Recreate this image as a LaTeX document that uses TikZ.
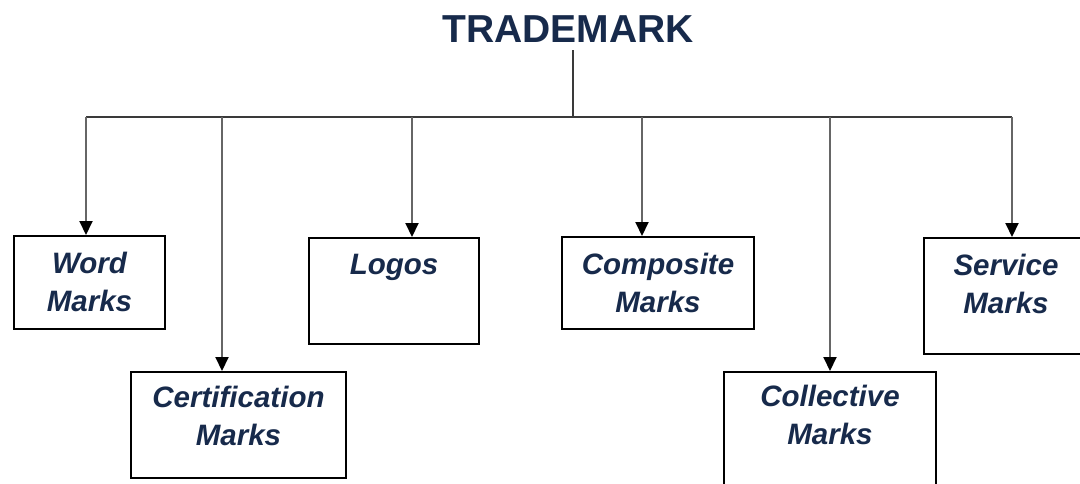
\documentclass[tikz,border=0pt]{standalone}
\usepackage{fontspec}
\setmainfont{Liberation Sans}
\usepackage{tikz}
\usetikzlibrary{arrows.meta,positioning}
\definecolor{navy}{HTML}{172A4B}
\definecolor{linegrey}{HTML}{3A3A3A}
\definecolor{dropgrey}{HTML}{666666}
\tikzset{
	markbox/.style={shape=rectangle,draw=black,line width=2pt,fill=white,anchor=north west,inner sep=0pt},
	marktext/.style={inner sep=0pt,align=center,text=navy,font=\fontsize{29.5}{38}\selectfont\bfseries\itshape},
	bus/.style={draw=linegrey,line width=2pt},
	drop/.style={draw=dropgrey,line width=2pt,-{Triangle[width=13pt,length=14pt,color=black]}}
}
\begin{document}
\begin{tikzpicture}[x=1pt,y=-1pt]
		\useasboundingbox (0,0) rectangle (1080,483);
		\node [anchor=base,inner sep=8pt,text=navy,font=\fontsize{39}{40}\selectfont\bfseries] (title) at (568,42) {TRADEMARK};
		\coordinate (root) at (573,117);
		\coordinate (bus-word) at (86,117);
		\coordinate (bus-cert) at (222,117);
		\coordinate (bus-logos) at (412,117);
		\coordinate (bus-comp) at (642,117);
		\coordinate (bus-coll) at (830,117);
		\coordinate (bus-serv) at (1012,117);
		\node [markbox,minimum width=151pt,minimum height=93pt] (word) at (13,235) {};
		\node [markbox,minimum width=215pt,minimum height=106pt] (cert) at (130,371) {};
		\node [markbox,minimum width=170pt,minimum height=106pt] (logos) at (308,237) {};
		\node [markbox,minimum width=192pt,minimum height=92pt] (comp) at (561,236) {};
		\node [markbox,minimum width=212pt,minimum height=120pt] (coll) at (723,371) {};
		\node [markbox,minimum width=170pt,minimum height=116pt] (serv) at (923,237) {};
		\node [marktext,below=17pt of word.north] (word-text) {Word\\Marks};
		\node [marktext,below=15pt of cert.north] (cert-text) {Certification\\Marks};
		\node [marktext,below=17pt of logos.north] (logos-text) {Logos};
		\node [marktext,below=17pt of comp.north] (comp-text) {Composite\\Marks};
		\node [marktext,below=14pt of coll.north] (coll-text) {Collective\\Marks};
		\node [marktext,below=17pt of serv.north,xshift=-3pt] (serv-text) {Service\\Marks};
		\draw [bus] (title.south -| root) -- (root);
		\draw [bus] (bus-word) -- (bus-serv);
		\draw [drop] (bus-word) -- (bus-word |- word.north);
		\draw [drop] (bus-cert) -- (bus-cert |- cert.north);
		\draw [drop] (bus-logos) -- (bus-logos |- logos.north);
		\draw [drop] (bus-comp) -- (bus-comp |- comp.north);
		\draw [drop] (bus-coll) -- (bus-coll |- coll.north);
		\draw [drop] (bus-serv) -- (bus-serv |- serv.north);
	\end{tikzpicture}
\end{document}
